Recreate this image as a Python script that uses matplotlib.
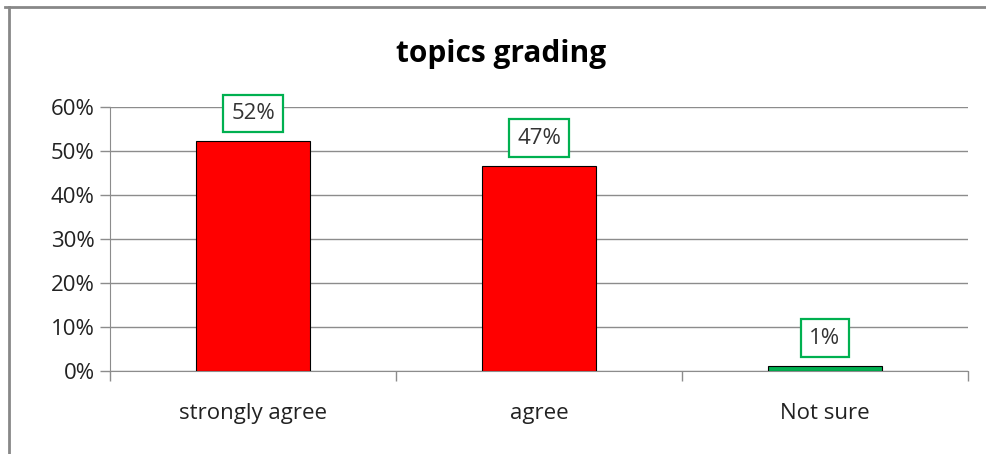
import matplotlib.pyplot as plt
from matplotlib.lines import Line2D

# data
categories = ['strongly agree', 'agree', 'Not sure']
values = [52.2, 46.6, 1.1]
labels = ['52%', '47%', '1%']
colors = ['#FF0000', '#FF0000', '#00B050']

plt.rcParams['font.family'] = ['Open Sans', 'DejaVu Sans']

fig = plt.figure(figsize=(9.86, 4.54), dpi=100)
ax = fig.add_axes([0.1116, 0.1828, 0.8701, 0.5815])

x = range(len(categories))
ax.bar(x, values, width=0.4, color=colors, edgecolor='black', linewidth=0.8, zorder=3)

# data labels in green boxes
for i, (v, lab) in enumerate(zip(values, labels)):
    ax.annotate(lab, (i, v), xytext=(0, 20), textcoords='offset points',
                ha='center', va='center', fontsize=16, color='#333333',
                bbox=dict(boxstyle='square,pad=0.38', fc='white', ec='#00B050', lw=1.6),
                zorder=4)

ax.set_xlim(-0.5, 2.5)
ax.set_ylim(0, 60)
ax.set_yticks(range(0, 61, 10))
ax.set_yticklabels([f'{t}%' for t in range(0, 61, 10)])
ax.yaxis.grid(True, color='#8c8c8c', linewidth=1, zorder=0)

ax.set_xticks([-0.5, 0.5, 1.5, 2.5])
ax.set_xticklabels([])
ax.set_xticks(list(x), minor=True)
ax.set_xticklabels(categories, minor=True)
ax.tick_params(axis='x', which='minor', length=0, pad=23, labelsize=16, labelcolor='#222222')
ax.tick_params(axis='x', which='major', length=7, color='#8c8c8c', width=1)
ax.tick_params(axis='y', length=7, color='#8c8c8c', width=1, labelsize=16, labelcolor='#222222', pad=4)

for s in ['top', 'right']:
    ax.spines[s].set_visible(False)
ax.spines['left'].set_color('#8c8c8c')
ax.spines['bottom'].set_color('#8c8c8c')

fig.text(0.508, 0.88, 'topics grading', ha='center', va='center', fontsize=21.5, fontweight='bold')

# outer frame of the chart (top and left edges visible)
fig.add_artist(Line2D([5 / 986, 1], [1 - 7 / 454, 1 - 7 / 454], color='#888888', lw=2))
fig.add_artist(Line2D([9 / 986, 9 / 986], [0, 1 - 7 / 454], color='#888888', lw=2))

plt.savefig('out.png', dpi=100)
